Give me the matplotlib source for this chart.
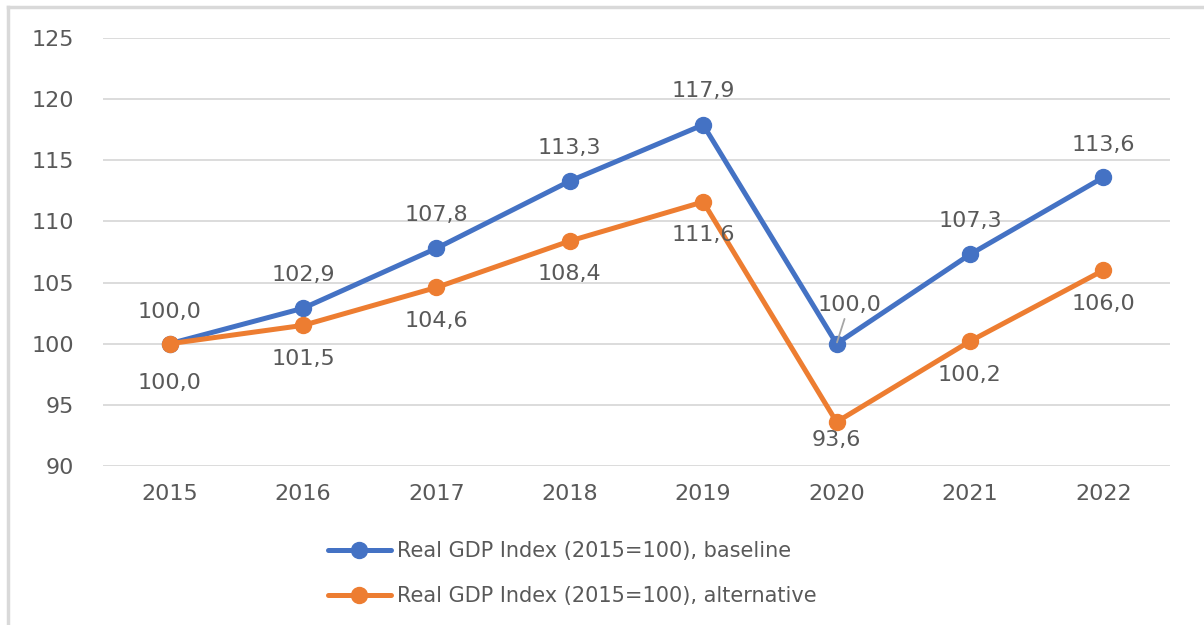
import matplotlib.pyplot as plt
from matplotlib.lines import Line2D

plt.rcParams["font.family"] = ["DejaVu Sans"]

years = ["2015", "2016", "2017", "2018", "2019", "2020", "2021", "2022"]
baseline = [100.0, 102.9, 107.8, 113.3, 117.9, 100.0, 107.3, 113.6]
alternative = [100.0, 101.5, 104.6, 108.4, 111.6, 93.6, 100.2, 106.0]
baseline_name = "Real GDP Index (2015=100), baseline"
alternative_name = "Real GDP Index (2015=100), alternative"
y_ticks = [90, 95, 100, 105, 110, 115, 120, 125]

# label offsets in points (dx, dy)
base_offsets = [(0, 23), (0, 24), (0, 24), (0, 24), (0, 24), (9, 28), (0, 24), (0, 23)]
alt_offsets = [(0, -28), (0, -24), (0, -24), (0, -24), (0, -24), (0, -13), (0, -24), (0, -24)]

blue = "#4472C4"
orange = "#ED7D31"
txt = "#595959"
grid = "#D9D9D9"
fs = 16

fig = plt.figure(figsize=(12.04, 6.25), dpi=100)
ax = fig.add_axes([103 / 1204, 1 - 466 / 625, (1170 - 103) / 1204, (466 - 38) / 625])

x = list(range(len(years)))
ax.plot(x, baseline, color=blue, lw=3.6, marker="o", ms=11.5, solid_capstyle="round",
        solid_joinstyle="round", zorder=3)
ax.plot(x, alternative, color=orange, lw=3.6, marker="o", ms=11.5, solid_capstyle="round",
        solid_joinstyle="round", zorder=3)

for i, v in enumerate(baseline):
    dx, dy = base_offsets[i]
    lbl = f"{v:.1f}".replace(".", ",")
    if i == 5:
        ax.annotate(lbl, (i, v), xytext=(dx, dy), textcoords="offset points",
                    ha="center", va="center", fontsize=fs, color=txt, zorder=4,
                    arrowprops=dict(arrowstyle="-", color="#A6A6A6", lw=1.3,
                                    shrinkA=1, shrinkB=1))
    else:
        ax.annotate(lbl, (i, v), xytext=(dx, dy), textcoords="offset points",
                    ha="center", va="center", fontsize=fs, color=txt, zorder=4)

for i, v in enumerate(alternative):
    dx, dy = alt_offsets[i]
    lbl = f"{v:.1f}".replace(".", ",")
    ax.annotate(lbl, (i, v), xytext=(dx, dy), textcoords="offset points",
                ha="center", va="center", fontsize=fs, color=txt, zorder=4)

ax.set_xlim(-0.5, len(years) - 0.5)
ax.set_ylim(90, 125)
ax.set_yticks(y_ticks)
ax.set_yticklabels([str(t) for t in y_ticks])
ax.set_xticks(x)
ax.set_xticklabels(years)
ax.tick_params(axis="y", length=0, pad=21, labelsize=fs, labelcolor=txt)
ax.tick_params(axis="x", length=0, pad=13, labelsize=fs, labelcolor=txt)
ax.grid(axis="y", color=grid, lw=1.3)
ax.set_axisbelow(True)
for s in ax.spines.values():
    s.set_visible(False)

handles = [
    Line2D([], [], color=blue, lw=3.6, marker="o", ms=11.5, solid_capstyle="round"),
    Line2D([], [], color=orange, lw=3.6, marker="o", ms=11.5, solid_capstyle="round"),
]
fig.legend(handles, [baseline_name, alternative_name], loc="upper left",
           bbox_to_anchor=(328 / 1204, 1 - 541 / 625), frameon=False,
           fontsize=15, labelcolor=txt, handlelength=3.0, handletextpad=0.3,
           labelspacing=1.2, borderpad=0, borderaxespad=0)

# outer chart frame (top and left edges visible)
fig.add_artist(Line2D([8 / 1204, 1], [1 - 7 / 625, 1 - 7 / 625], color=grid, lw=2.5,
                      transform=fig.transFigure))
fig.add_artist(Line2D([8 / 1204, 8 / 1204], [0, 1 - 7 / 625], color=grid, lw=2.5,
                      transform=fig.transFigure))

fig.savefig("out.png", dpi=100)
